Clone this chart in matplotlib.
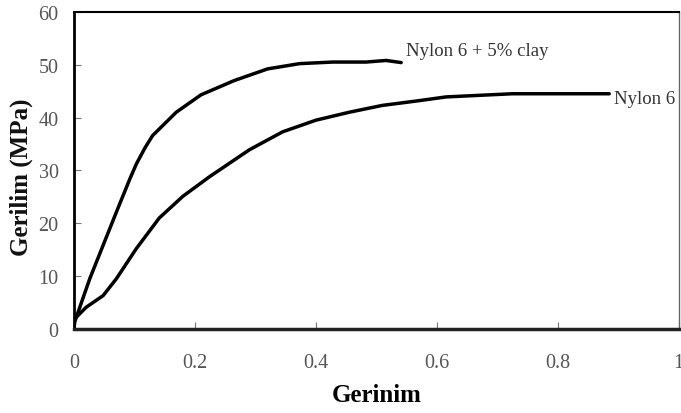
import matplotlib as mpl
mpl.use('Agg')
import matplotlib.pyplot as plt
import numpy as np

# strain / stress
strain_clay = [0.0, 0.001, 0.026, 0.048, 0.070, 0.092, 0.103, 0.117, 0.130, 0.169, 0.210,
               0.265, 0.320, 0.373, 0.428, 0.483, 0.516, 0.541]
stress_clay = [0.0, 1.3, 9.5, 15.8, 22.1, 28.3, 31.2, 34.2, 36.6, 41.0, 44.3,
               47.0, 49.2, 50.2, 50.5, 50.5, 50.8, 50.4]

strain_ny6 = [0.0, 0.001, 0.020, 0.048, 0.070, 0.103, 0.141, 0.180, 0.224, 0.268, 0.290,
              0.345, 0.400, 0.455, 0.510, 0.571, 0.615, 0.725, 0.885]
stress_ny6 = [0.0, 1.9, 4.1, 6.3, 9.5, 15.2, 21.0, 25.1, 28.8, 32.2, 33.9,
              37.3, 39.5, 41.0, 42.3, 43.2, 43.9, 44.5, 44.5]

label_clay = 'Nylon 6 + 5% clay'
label_ny6 = 'Nylon 6'

xticks = [0, 0.2, 0.4, 0.6, 0.8, 1]
xticklabels = ['0', '0.2', '0.4', '0.6', '0.8', '1']
yticks = [0, 10, 20, 30, 40, 50, 60]

mpl.rc('font', family='Liberation Serif')

fig = plt.figure(figsize=(6.81, 4.14), dpi=100)
ax = fig.add_axes([0.1087, 0.203, 0.888, 0.766])

ax.plot(strain_clay, stress_clay, '-', color='k', linewidth=2.5, solid_capstyle='round', solid_joinstyle='round')
ax.plot(strain_ny6, stress_ny6, '-', color='k', linewidth=2.5, solid_capstyle='round', solid_joinstyle='round')

ax.text(0.549, 52.7, label_clay, fontsize=13.5, color='#333333', va='center', ha='left')
ax.text(0.893, 43.6, label_ny6, fontsize=13.5, color='#333333', va='center', ha='left')

ax.set_xlim(0, 1)
ax.set_ylim(0, 60)
ax.set_xticks(xticks)
ax.set_xticklabels(xticklabels)
ax.set_yticks(yticks)
ax.tick_params(axis='both', direction='in', labelsize=14.5, labelcolor='#555555', color='#777777')
ax.tick_params(axis='x', length=5, pad=17)
ax.tick_params(axis='y', length=5, pad=11)

ax.spines['left'].set_linewidth(2)
ax.spines['bottom'].set_linewidth(2.5)
ax.spines['bottom'].set_color('#222222')
ax.spines['top'].set_linewidth(1.5)
ax.spines['right'].set_linewidth(1)
ax.spines['right'].set_color('#666666')

ax.set_xlabel('Gerinim', fontsize=18, fontweight='bold', labelpad=8)
ax.set_ylabel('Gerilim (MPa)', fontsize=18, fontweight='bold', color='#111111')
# keep the y label inside the figure, centred near x = 22 px
ax.yaxis.label.set_va('center')
ax.yaxis.set_label_coords(-0.088, 0.48)

plt.savefig('out.png', dpi=100)
